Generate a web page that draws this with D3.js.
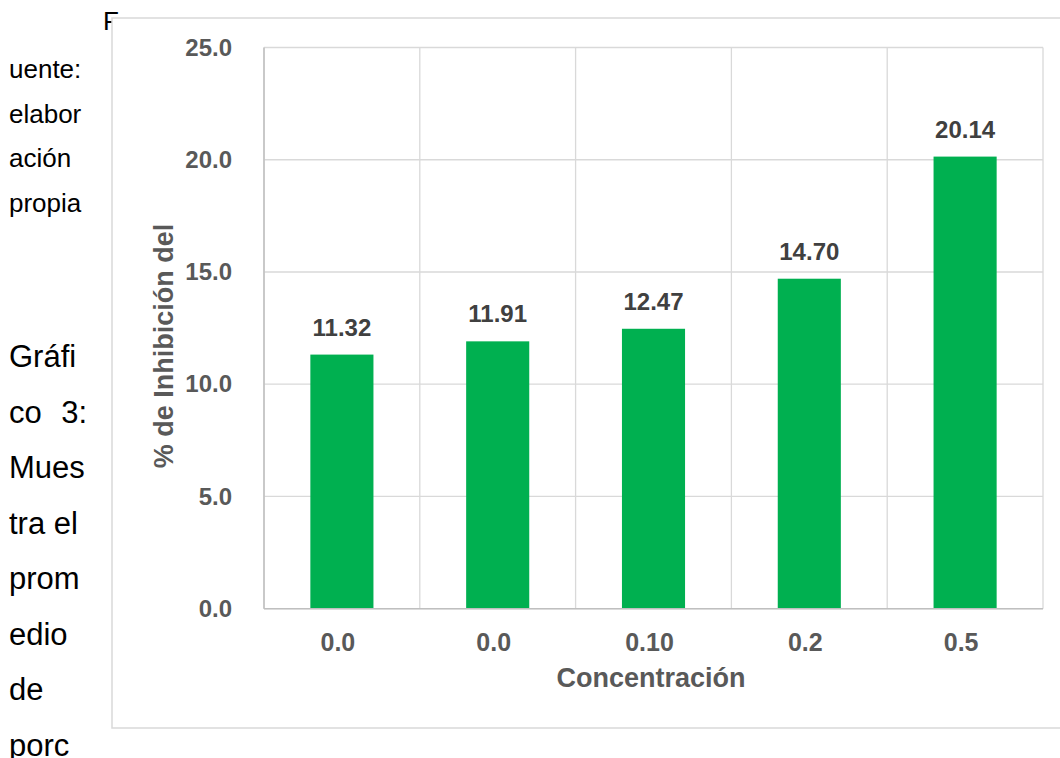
<!DOCTYPE html>
<html>
<head>
<meta charset="utf-8">
<script src="https://cdn.jsdelivr.net/npm/d3@7"></script>
<style>
  html, body { margin: 0; padding: 0; background: #fff; }
  svg { display: block; }
</style>
</head>
<body>
<svg id="page" width="1060" height="758"></svg>
<script>
// Concentrations (category labels) and mean inhibition percentages
const categories = ["0.0", "0.0 ", "0.10", "0.2", "0.5"];
const inhibition = [11.32, 11.91, 12.47, 14.70, 20.14];
const yTicks = [0, 5, 10, 15, 20, 25];

// Surrounding document text (narrow justified column)
const noteLines = ["uente:", "elabor", "ación", "propia"];
const captionLines = ["Gráfi", "co", "Mues", "tra el", "prom", "edio", "de", "porc"];

const svg = d3.select("#page");
const font = "'Liberation Sans', Arial, sans-serif";

// Column text on the left
svg.append("text").attr("x", 103).attr("y", 30)
  .attr("font-family", font).attr("font-size", 26).attr("fill", "#000").text("F");
svg.selectAll("text.note").data(noteLines).join("text")
  .attr("class", "note")
  .attr("x", 9).attr("y", (d, i) => 78 + i * 44.5)
  .attr("font-family", font).attr("font-size", 26).attr("fill", "#000")
  .text(d => d);
svg.selectAll("text.caption").data(captionLines).join("text")
  .attr("class", "caption")
  .attr("x", 9).attr("y", (d, i) => 367 + i * 55.5)
  .attr("font-family", font).attr("font-size", 31).attr("fill", "#000")
  .text(d => d);
// justified line: second word pushed to the column's right edge
svg.append("text")
  .attr("x", 87).attr("y", 367 + 55.5)
  .attr("text-anchor", "end")
  .attr("font-family", font).attr("font-size", 31).attr("fill", "#000")
  .text("3:");

// Chart frame
svg.append("rect")
  .attr("x", 112).attr("y", 18).attr("width", 1000).attr("height", 710)
  .attr("fill", "#fff").attr("stroke", "#d9d9d9").attr("stroke-width", 1.5);

const plot = { left: 264, right: 1043, top: 47.5, bottom: 608.7 };

const x = d3.scaleBand()
  .domain(categories)
  .range([plot.left, plot.right])
  .paddingInner(0.595)
  .paddingOuter(0.2975);

const y = d3.scaleLinear().domain([0, 25]).range([plot.bottom, plot.top]);

const g = svg.append("g");

// Horizontal gridlines
g.selectAll("line.hgrid").data(yTicks).join("line")
  .attr("class", "hgrid")
  .attr("x1", plot.left).attr("x2", plot.right)
  .attr("y1", d => y(d)).attr("y2", d => y(d))
  .attr("stroke", "#d9d9d9").attr("stroke-width", 1.3);

// Vertical gridlines at category boundaries
const step = x.step();
const bounds = d3.range(categories.length + 1).map(i => plot.left + i * step);
g.selectAll("line.vgrid").data(bounds).join("line")
  .attr("class", "vgrid")
  .attr("x1", d => d).attr("x2", d => d)
  .attr("y1", plot.top).attr("y2", plot.bottom)
  .attr("stroke", "#d9d9d9").attr("stroke-width", 1.3);

// Bars
g.selectAll("rect.bar").data(inhibition).join("rect")
  .attr("class", "bar")
  .attr("x", (d, i) => x(categories[i]))
  .attr("width", x.bandwidth())
  .attr("y", d => y(d))
  .attr("height", d => y(0) - y(d))
  .attr("fill", "#00b050");

// Axis lines
g.append("line")
  .attr("x1", plot.left).attr("x2", plot.right)
  .attr("y1", plot.bottom).attr("y2", plot.bottom)
  .attr("stroke", "#bfbfbf").attr("stroke-width", 1.5);
g.append("line")
  .attr("x1", plot.left).attr("x2", plot.left)
  .attr("y1", plot.top).attr("y2", plot.bottom)
  .attr("stroke", "#bfbfbf").attr("stroke-width", 1.5);

// Y axis tick labels
const yAxis = d3.axisLeft(y).tickValues(yTicks).tickFormat(d3.format(".1f")).tickSize(0).tickPadding(0);
const ya = svg.append("g").attr("transform", `translate(${232},0)`).call(yAxis);
ya.select(".domain").remove();
ya.selectAll("text")
  .attr("font-family", font).attr("font-size", 24).attr("font-weight", "bold")
  .attr("fill", "#595959");

// X axis tick labels
const xAxis = d3.axisBottom(x).tickSize(0).tickPadding(0);
const xa = svg.append("g").attr("transform", `translate(-4,${plot.bottom})`).call(xAxis);
xa.select(".domain").remove();
xa.selectAll("text")
  .attr("font-family", font).attr("font-size", 25).attr("font-weight", "bold")
  .attr("fill", "#595959")
  .attr("dy", null)
  .attr("y", 42);

// Value labels
svg.selectAll("text.val").data(inhibition).join("text")
  .attr("class", "val")
  .attr("x", (d, i) => x(categories[i]) + x.bandwidth() / 2)
  .attr("y", d => y(d) - 19)
  .attr("text-anchor", "middle")
  .attr("font-family", font).attr("font-size", 24).attr("font-weight", "bold")
  .attr("fill", "#404040")
  .text(d => d.toFixed(2));

// Axis titles
svg.append("text")
  .attr("x", 651).attr("y", 687)
  .attr("text-anchor", "middle")
  .attr("font-family", font).attr("font-size", 27).attr("font-weight", "bold")
  .attr("fill", "#595959")
  .text("Concentración");

svg.append("text")
  .attr("transform", `translate(173,346) rotate(-90)`)
  .attr("text-anchor", "middle")
  .attr("font-family", font).attr("font-size", 27).attr("font-weight", "bold")
  .attr("fill", "#595959")
  .text("% de Inhibición del");
</script>
</body>
</html>
